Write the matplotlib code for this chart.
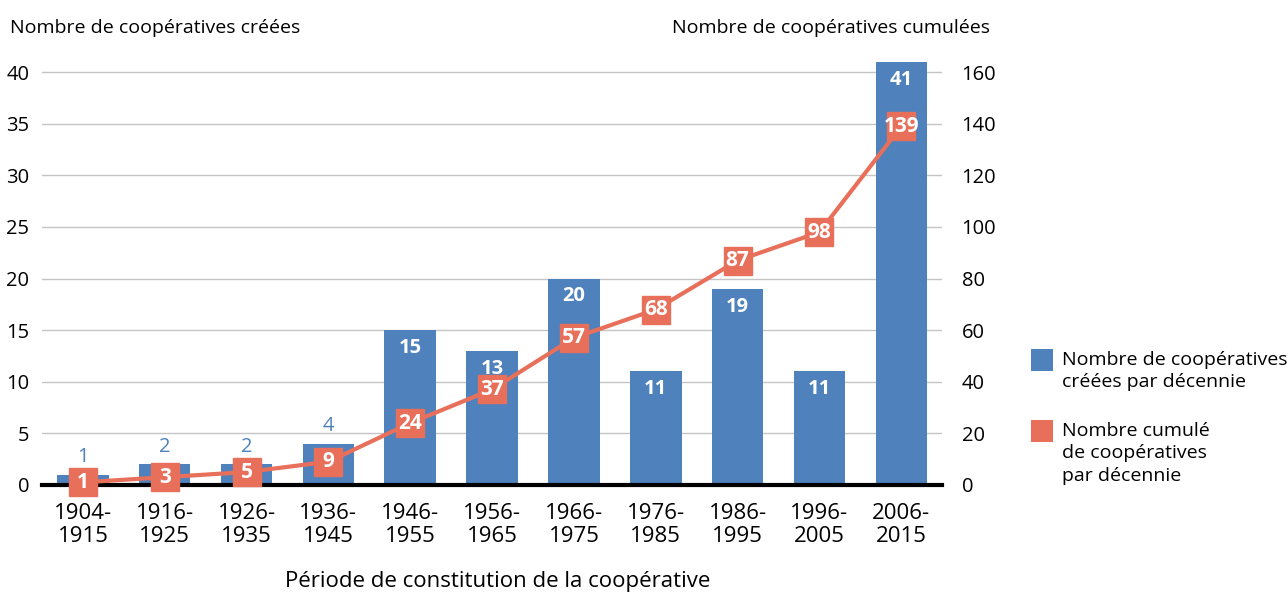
import matplotlib.pyplot as plt
from matplotlib.patches import Rectangle

plt.rcParams['font.family'] = ['Open Sans', 'DejaVu Sans']

periods = ['1904-\n1915', '1916-\n1925', '1926-\n1935', '1936-\n1945', '1946-\n1955',
           '1956-\n1965', '1966-\n1975', '1976-\n1985', '1986-\n1995', '1996-\n2005',
           '2006-\n2015']
created = [1, 2, 2, 4, 15, 13, 20, 11, 19, 11, 41]
cumulative = [1, 3, 5, 9, 24, 37, 57, 68, 87, 98, 139]
legend_labels = ['Nombre de coopératives\ncréées par décennie',
                 'Nombre cumulé\nde coopératives\npar décennie']

blue = '#4F81BD'
red = '#E8705A'
x = range(len(periods))

fig = plt.figure(figsize=(12.87, 5.95), dpi=100)
ax = fig.add_axes([0.0326, 0.185, 0.6995, 0.711])
ax2 = ax.twinx()

ax.set_zorder(1)
ax2.set_zorder(2)
ax.patch.set_visible(False)
ax2.patch.set_visible(False)

ax.bar(x, created, width=0.63, color=blue, zorder=2)
for i, v in enumerate(created):
    if v < 5:
        ax.text(i, v + 0.7, str(v), ha='center', va='bottom', color=blue, fontsize=14.5)
    else:
        ax.text(i, v - 0.75, str(v), ha='center', va='top', color='white',
                fontsize=14.5, fontweight='bold')

ax.set_xlim(-0.5, len(periods) - 0.5)
ax.set_ylim(0, 41)
ax.set_yticks(range(0, 41, 5))
ax.yaxis.grid(True, color='#C4C4C4', linewidth=1.0)
ax.set_axisbelow(True)
ax.set_xticks(list(x))
ax.set_xticklabels(periods, fontsize=16, linespacing=1.12)
ax.tick_params(axis='x', length=0, pad=13)
ax.tick_params(axis='y', length=0, labelsize=14.5, pad=9)
for s in ['top', 'right', 'left']:
    ax.spines[s].set_visible(False)
ax.spines['bottom'].set_linewidth(3)
ax.spines['bottom'].set_color('black')
ax.spines['bottom'].set_zorder(3)

ax2.plot(x, cumulative, color=red, linewidth=3, marker='s', markersize=20,
         markerfacecolor=red, markeredgecolor=red, clip_on=False, zorder=3)
for i, v in enumerate(cumulative):
    ax2.text(i, v, str(v), ha='center', va='center', color='white', fontsize=15,
             fontweight='bold', zorder=4)
ax2.set_ylim(0, 164)
ax2.set_yticks(range(0, 161, 20))
ax2.tick_params(axis='y', length=0, labelsize=14.5, pad=14)
for s in ['top', 'right', 'left', 'bottom']:
    ax2.spines[s].set_visible(False)

fig.text(10 / 1287, 1 - 28 / 595, 'Nombre de coopératives créées', fontsize=14,
         ha='left', va='center')
fig.text(990 / 1287, 1 - 28 / 595, 'Nombre de coopératives cumulées', fontsize=14,
         ha='right', va='center')
fig.text(498 / 1287, 1 - 582 / 595, 'Période de constitution de la coopérative',
         fontsize=16, ha='center', va='center')

# legend drawn by hand: swatch lined up with the first text line
W, H = 1287, 595
for color, label, top in zip([blue, red], legend_labels, [349, 420]):
    fig.patches.append(Rectangle((1031 / W, 1 - (top + 22) / H), 22 / W, 22 / H,
                                 transform=fig.transFigure, facecolor=color,
                                 edgecolor='none'))
    fig.text(1062 / W, 1 - (top + 2) / H, label, fontsize=14, ha='left', va='top',
             linespacing=1.32)

fig.savefig('out.png', dpi=100)
